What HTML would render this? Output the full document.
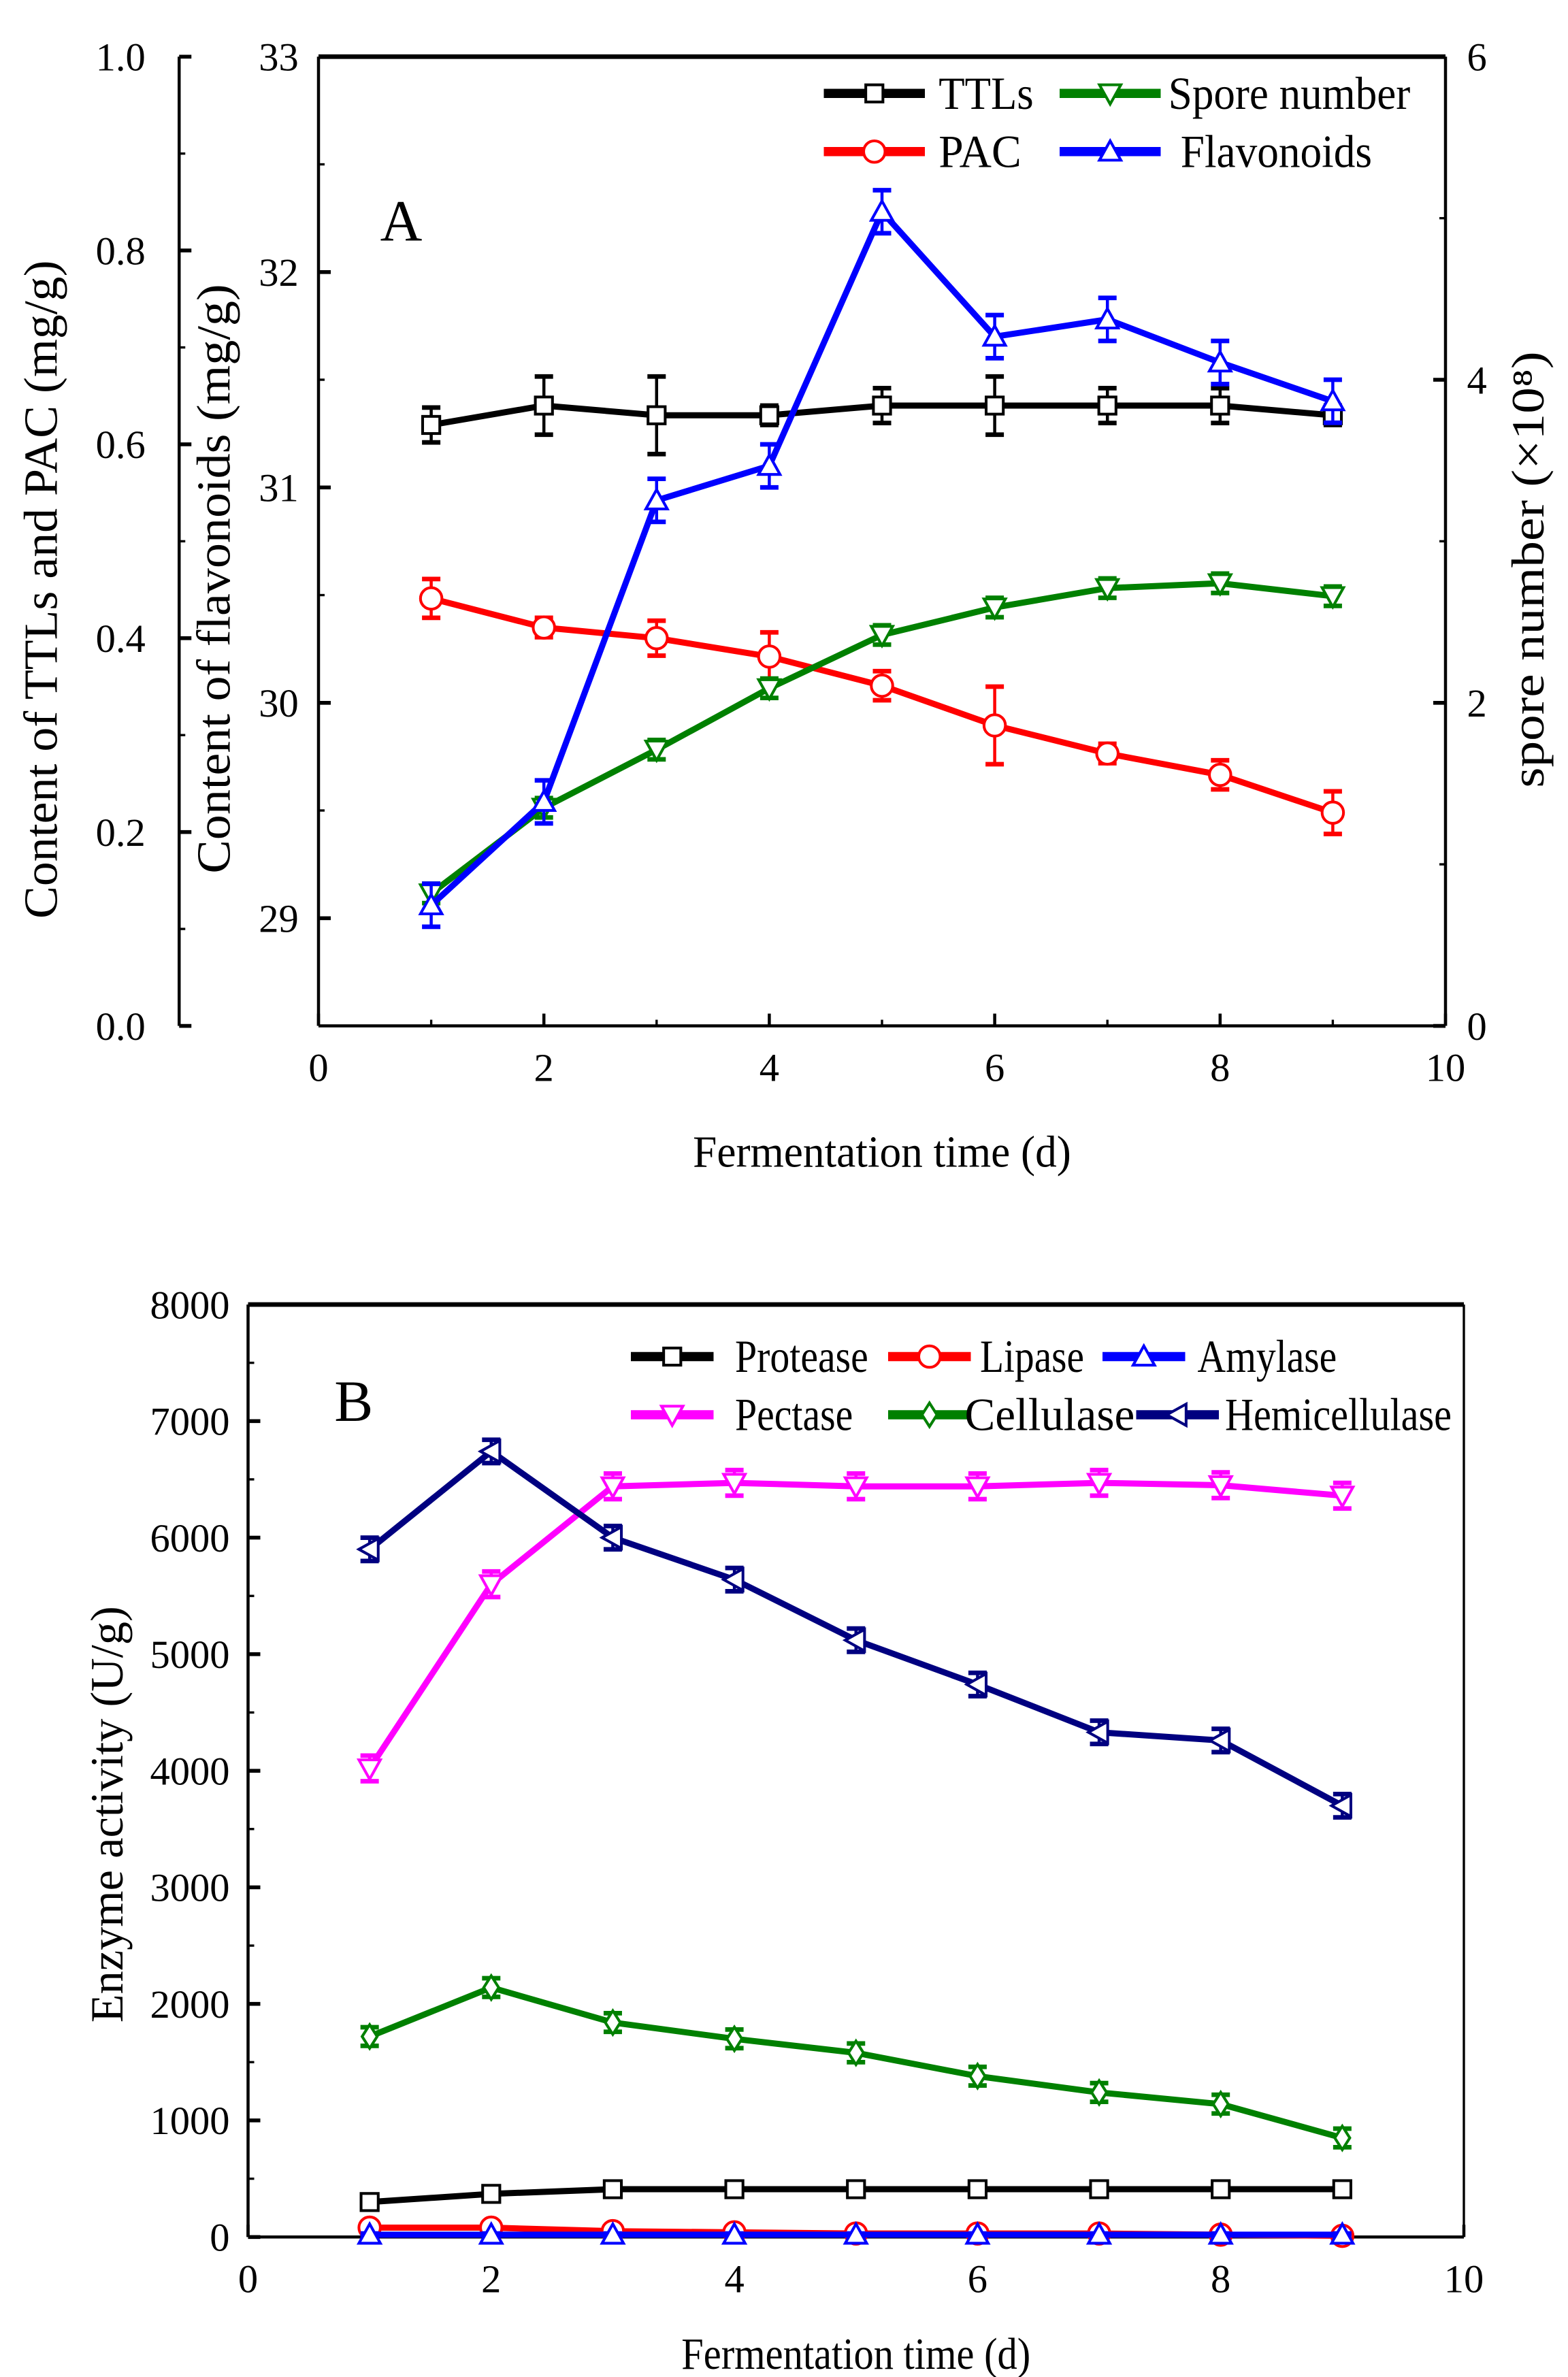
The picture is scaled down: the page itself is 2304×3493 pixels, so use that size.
<!DOCTYPE html>
<html><head><meta charset="utf-8">
<style>html,body{margin:0;padding:0;background:#fff}svg{display:block}text{font-family:"Liberation Serif",serif}</style>
</head><body>
<svg id="s" width="2304" height="3493" viewBox="0 0 1024 1552.44" preserveAspectRatio="none" xmlns="http://www.w3.org/2000/svg"></svg>
<script>
const days=[1,2,3,4,5,6,7,8,9];
const ttls=[0.62,0.64,0.63,0.63,0.64,0.64,0.64,0.64,0.63];
const ttlsErr=[0.018,0.03,0.04,0.01,0.018,0.03,0.018,0.018,0.01];
const pac=[0.441,0.411,0.400,0.381,0.351,0.310,0.281,0.259,0.220];
const pacErr=[0.02,0.01,0.018,0.025,0.015,0.04,0.01,0.015,0.022];
const spore=[0.82,1.35,1.71,2.09,2.42,2.59,2.71,2.74,2.66];
const flav=[29.06,29.54,30.94,31.10,32.28,31.70,31.78,31.58,31.40];
const protease=[300,370,410,410,410,410,410,410,410];
const lipase=[80,80,50,40,30,30,30,20,10];
const amylase=[20,20,20,20,20,20,20,20,20];
const pectase=[4020,5600,6440,6470,6440,6440,6470,6450,6360];
const cellulase=[1720,2140,1840,1700,1580,1380,1240,1140,850];
const hemi=[5900,6740,6000,5640,5120,4740,4330,4260,3700];
const xTicks=[0,2,4,6,8,10];
const ticksL=["0.0","0.2","0.4","0.6","0.8","1.0"];
const ticksF=[29,30,31,32,33];
const ticksR=[0,2,4,6];
const ticksB=[0,1000,2000,3000,4000,5000,6000,7000,8000];

const S=document.getElementById('s');const NS="http://www.w3.org/2000/svg";
function el(t,a,p){const e=document.createElementNS(NS,t);for(const k in a)e.setAttribute(k,a[k]);(p||S).appendChild(e);return e;}
function txt(x,y,s,size,anchor,name,extra){const e=el('text',Object.assign({x:x,y:y,'font-size':size,'text-anchor':anchor||'middle'},extra||{}));e.textContent=s;return e;}
function lin(x1,y1,x2,y2,w,c,name){const e=el('line',{x1,y1,x2,y2,stroke:c||'#000','stroke-width':w});return e;}
function marker(g,type,x,y,c,r){r=r||7;let e;
 if(type==='sq')e=el('rect',{x:x-r*0.8,y:y-r*0.8,width:r*1.6,height:r*1.6},g);
 else if(type==='ci')e=el('circle',{cx:x,cy:y,r:r},g);
 else{let p;if(type==='up')p=[[x,y-r],[x-r,y+r*0.8],[x+r,y+r*0.8]];else if(type==='dn')p=[[x,y+r],[x-r,y-r*0.8],[x+r,y-r*0.8]];else if(type==='di')p=[[x,y-r*1.1],[x-r*0.7,y],[x,y+r*1.1],[x+r*0.7,y]];else p=[[x-r,y],[x+r*0.8,y-r],[x+r*0.8,y+r]];
  e=el('polygon',{points:p.map(q=>q.join(',')).join(' ')},g);}
 e.setAttribute('fill','#fff');e.setAttribute('stroke',c);e.setAttribute('stroke-width',1.8);
 }
function series(name,xs,ys,xf,yf,c,type,err){const g=el('g',{});
 const pl=el('polyline',{points:xs.map((d,i)=>xf(d)+','+yf(ys[i])).join(' '),fill:'none',stroke:c,'stroke-width':4,'stroke-linejoin':'round'},g);
 
 if(err)xs.forEach((d,i)=>{const x=xf(d),y1=yf(ys[i]-err[i]),y2=yf(ys[i]+err[i]);
  el('line',{x1:x,y1:y1,x2:x,y2:y2,stroke:c,'stroke-width':2},g);el('line',{x1:x-6,y1:y1,x2:x+6,y2:y1,stroke:c,'stroke-width':3},g);el('line',{x1:x-6,y1:y2,x2:x+6,y2:y2,stroke:c,'stroke-width':3},g);});
 xs.forEach((d,i)=>marker(g,type,xf(d),yf(ys[i]),c));}
function legend(x,y,len,gap,tl,label,c,type,name){const g=el('g',{});
 el('line',{x1:x,y1:y,x2:x+len,y2:y,stroke:c,'stroke-width':6},g);marker(g,type,x+len/2,y,c);
 const t=el('text',{x:x+gap,y:y+10,'font-size':30,textLength:tl,lengthAdjust:'spacingAndGlyphs'},g);t.textContent=label;}
const LA={lengthAdjust:'spacingAndGlyphs'};

// Panel A
const ax0=208,ax1=944,ay0=670,ay1=37;
const xA=d=>ax0+(ax1-ax0)*d/10;
const yL=v=>ay0-(ay0-ay1)*v;
const yF=v=>ay0-(ay0-ay1)*(v-28.5)/4.5;
const yR=v=>ay0-(ay0-ay1)*v/6;
lin(ax0,ay1,ax1,ay1,3,'#000','panel-a-top-frame');
lin(ax0,ay0,ax1,ay0,2,'#000','panel-a-x-axis');
lin(ax0,ay1,ax0,ay0,2,'#000','flavonoid-axis');
lin(ax1,ay1,ax1,ay0,2,'#000','spore-axis');
lin(117,ay1,117,ay0,2,'#000','ttls-pac-axis');
xTicks.forEach(d=>{lin(xA(d),ay0,xA(d),ay0-8,2,'#000','x-tick');txt(xA(d),ay0+36,String(d),26,'middle','x-tick-label');});
for(let d=1;d<10;d+=2)lin(xA(d),ay0,xA(d),ay0-4,1.5,'#000','x-minor-tick');
ticksL.forEach((s,i)=>{const y=yL(i*0.2);lin(117,y,125,y,2.5,'#000','left-tick');txt(95,y+9,s,26,'end','left-tick-label');lin(117,yL(i*0.2+0.1),121,yL(i*0.2+0.1),1.5,'#000','left-minor-tick');});
ticksF.forEach(v=>{const y=yF(v);lin(ax0,y,ax0+8,y,2.5,'#000','flav-tick');txt(195,y+9,String(v),26,'end','flav-tick-label');lin(ax0,yF(v+0.5),ax0+4,yF(v+0.5),1.5,'#000','flav-minor-tick');});
ticksR.forEach(v=>{const y=yR(v);lin(ax1,y,ax1-8,y,2.5,'#000','right-tick');txt(958,y+9,String(v),26,'start','right-tick-label');lin(ax1,yR(v+1),ax1-4,yR(v+1),1.5,'#000','right-minor-tick');});
txt(576,762,'Fermentation time (d)',29,'middle','panel-a-x-title',Object.assign({textLength:247},LA));
txt(0,0,'Content of TTLs and PAC (mg/g)',31,'middle','ttls-pac-axis-title',Object.assign({transform:'translate(37,385) rotate(-90)',textLength:430},LA));
txt(0,0,'Content of flavonoids (mg/g)',31,'middle','flavonoid-axis-title',Object.assign({transform:'translate(150,378) rotate(-90)',textLength:385},LA));
txt(0,0,'spore number (×10⁸)',30,'middle','spore-axis-title',Object.assign({transform:'translate(1008,372) rotate(-90)',textLength:285},LA));
txt(262,157,'A',38,'middle','panel-a-label');
series('ttls',days,ttls,xA,yL,'#000','sq',ttlsErr);
series('pac',days,pac,xA,yL,'#f00','ci',pacErr);
series('spore',days,spore,xA,yR,'#008000','dn',spore.map(()=>0.06));
series('flavonoids',days,flav,xA,yF,'#00f','up',flav.map(()=>0.1));
legend(538,61,66,75,62,'TTLs','#000','sq','legend-ttls');
legend(692,61,66,71,158,'Spore number','#008000','dn','legend-spore');
legend(538,99,66,75,54,'PAC','#f00','ci','legend-pac');
legend(692,99,66,79,125,'Flavonoids','#00f','up','legend-flavonoids');

// Panel B
const bx0=162,bx1=956,by0=1461,by1=852;
const xB=d=>bx0+(bx1-bx0)*d/10;
const yB=v=>by0-(by0-by1)*v/8000;
lin(bx0,by1,bx1,by1,3,'#000','panel-b-top-frame');
lin(bx0,by0,bx1,by0,2,'#000','panel-b-x-axis');
lin(bx0,by1,bx0,by0,2,'#000','panel-b-y-axis');
lin(bx1,by1,bx1,by0,1.5,'#000','panel-b-right-frame');
xTicks.forEach(d=>{lin(xB(d),by0,xB(d),by0-8,2,'#000','x-tick');txt(xB(d),by0+36,String(d),26,'middle','x-tick-label');});
for(let d=1;d<10;d+=2)lin(xB(d),by0,xB(d),by0-4,1.5,'#000','x-minor-tick');
ticksB.forEach(v=>{const y=yB(v);lin(bx0,y,bx0+8,y,2.5,'#000','y-tick');txt(150,y+9,String(v),26,'end','y-tick-label');if(v<8000)lin(bx0,yB(v+500),bx0+4,yB(v+500),1.5,'#000','y-minor-tick');});
txt(559,1547,'Fermentation time (d)',29,'middle','panel-b-x-title',Object.assign({textLength:228},LA));
txt(0,0,'Enzyme activity (U/g)',30,'middle','panel-b-y-title',Object.assign({transform:'translate(80,1185) rotate(-90)',textLength:272},LA));
txt(231,928,'B',38,'middle','panel-b-label');
series('protease',days,protease,xB,yB,'#000','sq',protease.map(()=>40));
series('lipase',days,lipase,xB,yB,'#f00','ci',lipase.map(()=>20));
series('amylase',days,amylase,xB,yB,'#00f','up',amylase.map(()=>10));
series('pectase',days,pectase,xB,yB,'#f0f','dn',pectase.map(()=>110));
series('cellulase',days,cellulase,xB,yB,'#008000','di',cellulase.map(()=>80));
series('hemicellulase',days,hemi,xB,yB,'#000080','lt',hemi.map(()=>100));
legend(412,886,54,68,87,'Protease','#000','sq','legend-protease');
legend(580,886,54,60,68,'Lipase','#f00','ci','legend-lipase');
legend(720,886,54,62,91,'Amylase','#00f','up','legend-amylase');
legend(412,924,54,68,77,'Pectase','#f0f','dn','legend-pectase');
legend(580,924,54,50,111,'Cellulase','#008000','di','legend-cellulase');
legend(742,924,54,58,148,'Hemicellulase','#000080','lt','legend-hemicellulase');
</script>
</body></html>
